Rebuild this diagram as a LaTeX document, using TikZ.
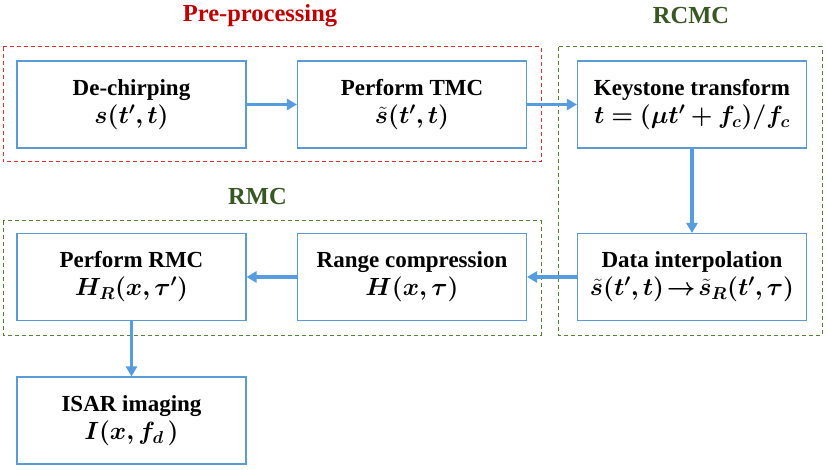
\documentclass[tikz,border=0pt]{standalone}
\usepackage{amsmath}
\usepackage{bm}
\usepackage{fontspec}
\setmainfont{Liberation Serif}
\usetikzlibrary{arrows.meta}
\usetikzlibrary{positioning}

\definecolor{boxblue}{RGB}{91,155,213}
\definecolor{flowblue}{RGB}{86,156,222}
\definecolor{preRed}{RGB}{225,45,45}
\definecolor{grpGreen}{RGB}{84,130,53}
\definecolor{lblRed}{RGB}{192,0,0}
\definecolor{lblGreen}{RGB}{56,87,35}

\tikzset{
	stage/.style={draw=boxblue, line width=1.1pt, minimum width=229pt, minimum height=87pt,
		align=center, font=\bfseries\fontsize{23}{28}\selectfont},
	flow/.style={draw=flowblue, line width=3.2pt, -{Triangle[length=10pt,width=11pt]}},
	group/.style={dashed, line width=1pt, dash pattern=on 4pt off 3pt},
	grouplabel/.style={font=\bfseries\fontsize{24.5}{28}\selectfont}
}

\begin{document}
\begin{tikzpicture}[x=1pt, y=-1pt]
			\useasboundingbox (0,0) rectangle (827,470);
			% groups
			\draw[group, draw=preRed] (3,47) rectangle (541,162);
			\draw[group, draw=grpGreen] (558,47) rectangle (822,335);
			\draw[group, draw=grpGreen] (3,221) rectangle (541,335);
			\node[grouplabel, text=lblRed] (lpre) at (260,16) {Pre-processing};
			\node[grouplabel, text=lblGreen] (lrcmc) at (691,16) {RCMC};
			\node[grouplabel, text=lblGreen] (lrmc) at (257.5,197) {RMC};
			% stages
			\node[stage] (dechirp) at (131.5,104.5) {De-chirping\\$\bm{s(t',t)}$};
			\node[stage] (tmc) at (412,104.5) {Perform TMC\\$\bm{\tilde{s}(t',t)}$};
			\node[stage] (keystone) at (692,104.5) {Keystone transform\\$\bm{t=(\mu t'+f_c)/f_c}$};
			\node[stage] (interp) at (692,277) {Data interpolation\\$\bm{\tilde{s}(t',t)\!\rightarrow\!\tilde{s}_R(t',\tau)}$};
			\node[stage] (rangec) at (412,277) {Range compression\\$\bm{H(x,\tau)}$};
			\node[stage] (rmc) at (131.5,277) {Perform RMC\\$\bm{H_R(x,\tau')}$};
			\node[stage] (isar) at (131.5,420.5) {ISAR imaging\\$\bm{I(x,f_d\,)}$};
			% flow
			\foreach \a/\b in {dechirp/tmc,tmc/keystone,keystone/interp,interp/rangec,rangec/rmc,rmc/isar} {
				\draw[flow] (\a) -- (\b);
			}
		\end{tikzpicture}
\end{document}
